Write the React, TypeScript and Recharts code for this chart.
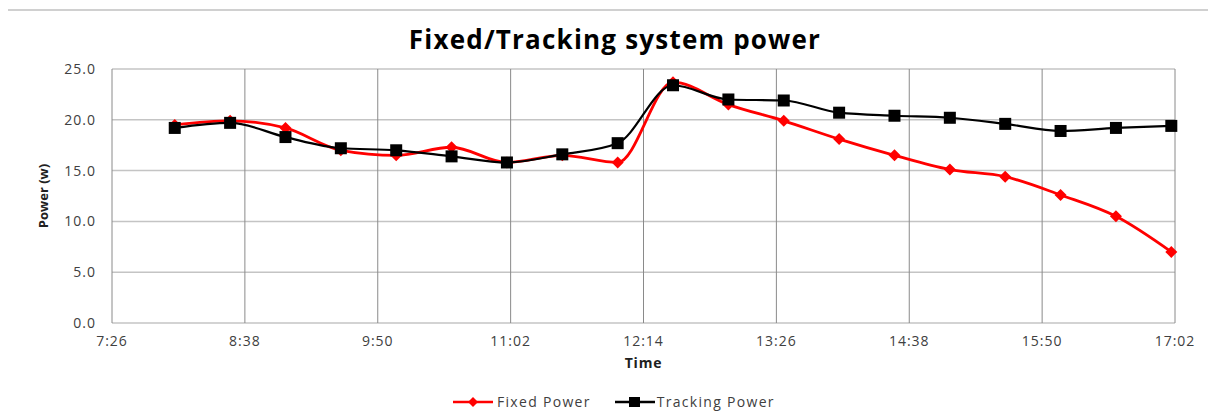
import React from 'react';
import { LineChart, Line, XAxis, YAxis, CartesianGrid } from 'recharts';

const times = ['8:00','8:30','9:00','9:30','10:00','10:30','11:00','11:30','12:00','12:30','13:00','13:30','14:00','14:30','15:00','15:30','16:00','16:30','17:00'];
const fixedPower = [19.5,19.9,19.2,17.0,16.5,17.3,15.8,16.5,15.8,23.7,21.5,19.9,18.1,16.5,15.1,14.4,12.6,10.5,7.0];
const trackingPower = [19.2,19.7,18.3,17.2,17.0,16.4,15.8,16.6,17.7,23.4,22.0,21.9,20.7,20.4,20.2,19.6,18.9,19.2,19.4];
const xTickLabels = ['7:26','8:38','9:50','11:02','12:14','13:26','14:38','15:50','17:02'];
const yTicks = [0, 5, 10, 15, 20, 25];

const toMin = (s: string) => { const [h, m] = s.split(':').map(Number); return h * 60 + m; };
const fmt = (v: number) => `${Math.floor(v / 60)}:${String(v % 60).padStart(2, '0')}`;

const data = times.map((t, i) => ({ t: toMin(t), fixed: fixedPower[i], tracking: trackingPower[i] }));
const xTicks = xTickLabels.map(toMin);

const FONT = '"Open Sans", sans-serif';
const TEXT = '#404040';

const Diamond = (props: any) => {
  const { cx, cy, index } = props;
  const r = 6;
  return <path key={`d${index}`} d={`M${cx},${cy - r}L${cx + r},${cy}L${cx},${cy + r}L${cx - r},${cy}Z`} fill="#ff0000" />;
};
const Square = (props: any) => {
  const { cx, cy, index } = props;
  const s = 12;
  return <rect key={`s${index}`} x={cx - s / 2} y={cy - s / 2} width={s} height={s} fill="#000" />;
};

export default function App() {
  return (
    <div style={{ position: 'relative', left: -2, top: 1, width: 1210, height: 410, borderTop: '2px solid #d0d0d0', borderLeft: '2px solid #d0d0d0', fontFamily: FONT }}>
      <div style={{ position: 'absolute', left: 0, width: 1214, top: 10, textAlign: 'center', fontWeight: 700, fontSize: 26, letterSpacing: 1.2, color: '#000' }}>
        Fixed/Tracking system power
      </div>
      <div style={{ position: 'absolute', left: 0, top: 0 }}>
        <LineChart width={1200} height={400} data={data} margin={{ top: 58, right: 33, left: 0, bottom: 58 }}>
          <CartesianGrid horizontal={true} vertical={false} stroke="#c4c4c4" strokeWidth={1.5} />
          <CartesianGrid horizontal={false} vertical={true} stroke="#8a8a8a" strokeWidth={1} />
          <XAxis
            dataKey="t"
            type="number"
            domain={[toMin('7:26'), toMin('17:02')]}
            ticks={xTicks}
            tickFormatter={fmt}
            height={30}
            axisLine={false}
            tickLine={false}
            tickSize={0}
            tickMargin={13}
            tick={{ fill: TEXT, fontSize: 14, fontFamily: FONT, letterSpacing: 1 }}
            interval={0}
            label={({ viewBox }: any) => (
              <text x={viewBox.x + viewBox.width / 2} y={viewBox.y + 45} textAnchor="middle" fontFamily={FONT} fontWeight={700} fontSize={14} letterSpacing={0.8} fill="#202020">Time</text>
            )}
          />
          <YAxis
            type="number"
            domain={[0, 25]}
            ticks={yTicks}
            interval={0}
            width={104}
            axisLine={false}
            tickLine={false}
            tickSize={0}
            tickMargin={16}
            tickFormatter={(v: number) => v.toFixed(1)}
            tick={{ fill: TEXT, fontSize: 14, fontFamily: FONT, letterSpacing: 1 }}
            label={({ viewBox }: any) => {
              const cx = 37;
              const cy = viewBox.y + viewBox.height / 2;
              return (
                <text x={cx} y={cy} transform={`rotate(-90 ${cx} ${cy})`} textAnchor="middle" dominantBaseline="middle" fontFamily={FONT} fontWeight={700} fontSize={13} fill="#202020">Power (w)</text>
              );
            }}
          />
          <Line type="monotone" dataKey="fixed" stroke="#ff0000" strokeWidth={2.8} dot={Diamond} activeDot={false} isAnimationActive={false} />
          <Line type="monotone" dataKey="tracking" stroke="#000000" strokeWidth={2.2} dot={Square} activeDot={false} isAnimationActive={false} />
        </LineChart>
      </div>
      <div style={{ position: 'absolute', top: 381, left: 445, display: 'flex', alignItems: 'center', fontSize: 14, color: TEXT, letterSpacing: 1.3 }}>
        <svg width={40} height={12} style={{ marginRight: 4 }}>
          <line x1={0} y1={6} x2={40} y2={6} stroke="#ff0000" strokeWidth={2.5} />
          <path d="M20,1L25,6L20,11L15,6Z" fill="#ff0000" />
        </svg>
        <span>Fixed Power</span>
        <svg width={40} height={12} style={{ marginLeft: 24, marginRight: 2 }}>
          <line x1={0} y1={6} x2={40} y2={6} stroke="#000" strokeWidth={2.5} />
          <rect x={14} y={1} width={11} height={10} fill="#000" />
        </svg>
        <span>Tracking Power</span>
      </div>
    </div>
  );
}
